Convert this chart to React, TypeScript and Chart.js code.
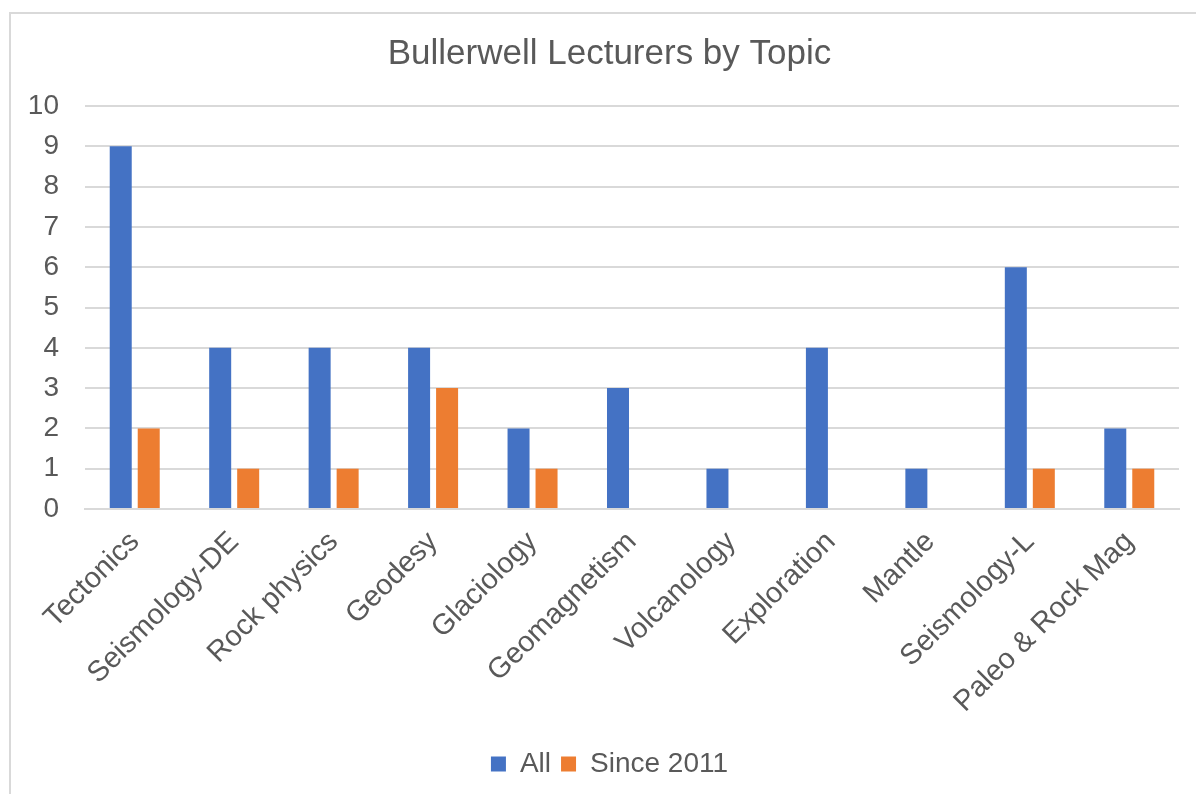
import React, { useEffect, useRef } from "react";
import { Chart, registerables } from "chart.js";

Chart.register(...registerables);

const categories = [
  "Tectonics",
  "Seismology-DE",
  "Rock physics",
  "Geodesy",
  "Glaciology",
  "Geomagnetism",
  "Volcanology",
  "Exploration",
  "Mantle",
  "Seismology-L",
  "Paleo & Rock Mag",
];
const allValues = [9, 4, 4, 4, 2, 3, 1, 4, 1, 6, 2];
const since2011Values = [2, 1, 1, 3, 1, 0, 0, 0, 0, 1, 1];
const yTicks = [0, 1, 2, 3, 4, 5, 6, 7, 8, 9, 10];

const FONT = "'Liberation Sans', Arial, sans-serif";
const TEXT = "#595959";
const GRID = "#d9d9d9";

const unclipYLabels = {
  id: "unclipYLabels",
  beforeDraw(c: any) {
    if (c.scales && c.scales.y) c.scales.y.left = 0;
  },
};

export default function App() {
  const ref = useRef<HTMLCanvasElement | null>(null);

  useEffect(() => {
    if (!ref.current) return;
    const chart = new Chart(ref.current, {
      type: "bar",
      data: {
        labels: categories,
        datasets: [
          {
            label: "All",
            data: allValues,
            backgroundColor: "#4472C4",
            categoryPercentage: 0.563,
            barPercentage: 0.786,
          },
          {
            label: "Since 2011",
            data: since2011Values,
            backgroundColor: "#ED7D31",
            categoryPercentage: 0.563,
            barPercentage: 0.786,
          },
        ],
      },
      plugins: [unclipYLabels],
      options: {
        responsive: false,
        animation: false,
        layout: { padding: { left: 40, right: 17, top: 0, bottom: 6 } },
        plugins: {
          title: {
            display: true,
            text: "Bullerwell Lecturers by Topic",
            color: TEXT,
            font: { family: FONT, size: 35, weight: "normal" },
            padding: { top: 33, bottom: 31 },
          },
          legend: {
            position: "bottom",
            labels: {
              color: TEXT,
              font: { family: FONT, size: 28 },
              boxWidth: 15,
              boxHeight: 15,
              padding: 10,
            },
          },
          tooltip: { enabled: false },
        },
        scales: {
          x: {
            grid: { display: false, drawTicks: false },
            border: { display: true, color: GRID, width: 2 },
            ticks: {
              color: TEXT,
              font: { family: FONT, size: 29 },
              maxRotation: 45,
              minRotation: 45,
              autoSkip: false,
              padding: 16,
            },
            afterFit: (s: any) => {
              s.height = 231;
            },
          },
          y: {
            min: 0,
            max: 10,
            afterBuildTicks: (s: any) => {
              s.ticks = yTicks.map((v) => ({ value: v }));
            },
            grid: { color: GRID, lineWidth: 2, drawTicks: false },
            border: { display: false },
            ticks: {
              color: TEXT,
              font: { family: FONT, size: 28 },
              padding: 26,
            },
            afterFit: (s: any) => {
              s.width = 45;
            },
          },
        },
      },
    });
    return () => chart.destroy();
  }, []);

  return (
    <div
      style={{
        position: "fixed",
        left: 0,
        top: 0,
        width: 1196,
        height: 794,
        overflow: "hidden",
        background: "#fff",
      }}
    >
      <div
        style={{
          position: "absolute",
          left: 9,
          top: 12,
          width: 1400,
          height: 1000,
          border: "2px solid #d9d9d9",
          boxSizing: "border-box",
        }}
      />
      <canvas
        ref={ref}
        width={1196}
        height={794}
        style={{ position: "absolute", left: 0, top: 0, width: 1196, height: 794 }}
      />
    </div>
  );
}
